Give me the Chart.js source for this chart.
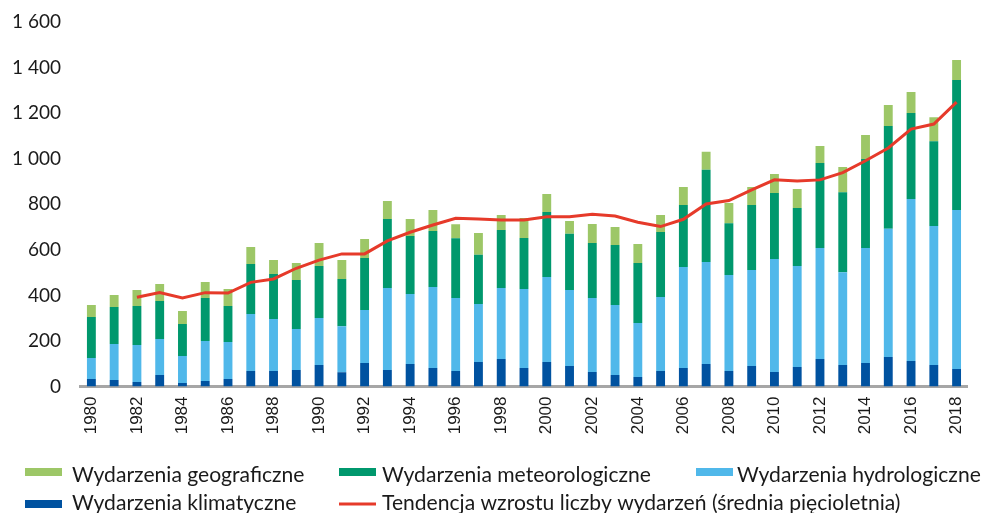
<!DOCTYPE html>
<html>
<head>
<meta charset="utf-8">
<script src="https://cdn.jsdelivr.net/npm/chart.js@4.4.1/dist/chart.umd.min.js"></script>
<style>
  html, body { margin: 0; padding: 0; background: #ffffff; overflow: hidden; }
  #wrap { width: 987px; height: 513px; }
</style>
</head>
<body>
<div id="wrap"><canvas id="c" width="987" height="513"></canvas></div>
<script>
const years = ['1980','1981','1982','1983','1984','1985','1986','1987','1988','1989',
  '1990','1991','1992','1993','1994','1995','1996','1997','1998','1999',
  '2000','2001','2002','2003','2004','2005','2006','2007','2008','2009',
  '2010','2011','2012','2013','2014','2015','2016','2017','2018'];

const klimatyczne = [33,29,20,50,15,24,33,68,68,72,94,63,103,72,99,81,68,107,121,81,
  107,90,64,50,42,68,81,99,68,90,64,86,121,94,103,130,112,94,77];
const hydrologiczne = [92,158,162,158,119,176,162,250,228,180,207,202,233,360,307,356,320,255,311,347,
  374,334,325,308,237,325,444,448,421,421,496,443,487,408,505,562,711,610,698];
const meteorologiczne = [180,162,171,167,140,188,158,220,198,215,228,207,228,303,255,246,263,216,255,224,
  285,246,241,263,263,285,272,404,228,286,289,255,373,351,391,452,378,373,570];
const geograficzne = [53,53,71,75,57,71,75,74,61,75,101,83,84,79,74,92,61,96,66,88,
  79,57,83,79,83,75,79,79,88,79,84,83,75,110,105,92,92,105,88];
const tendencja = [null,null,392,412,389,412,410,457,472,519,555,582,582,639,677,709,738,735,731,731,
  745,745,756,748,721,702,734,801,816,863,907,902,907,939,991,1047,1130,1152,1248];

const yTicks = [0,200,400,600,800,1000,1200,1400,1600];

const labels = {
  geo: 'Wydarzenia geograficzne',
  meteo: 'Wydarzenia meteorologiczne',
  hydro: 'Wydarzenia hydrologiczne',
  klim: 'Wydarzenia klimatyczne',
  trend: 'Tendencja wzrostu liczby wydarzeń (średnia pięcioletnia)'
};

const C_GEO = '#9dc767', C_METEO = '#00986d', C_HYDRO = '#50b8ea', C_KLIM = '#0052a0', C_RED = '#e63a2a';

function fmt(v) { return String(v).replace(/\B(?=(\d{3})+(?!\d))/g, ' '); }

const legendPlugin = {
  id: 'customLegend',
  afterDraw(chart) {
    const ctx = chart.ctx;
    const byKey = {};
    chart.data.datasets.forEach(d => byKey[d.key] = d);
    const items = [
      { k: 'geo',   sx: 25,  tx: 72,  base: 482, sy: 472 },
      { k: 'meteo', sx: 339, tx: 382, base: 482, sy: 472 },
      { k: 'hydro', sx: 696, tx: 737, base: 482, sy: 472 },
      { k: 'klim',  sx: 25,  tx: 72,  base: 510, sy: 504 },
      { k: 'trend', sx: 339, tx: 382, base: 510, sy: 504 }
    ];
    ctx.save();
    ctx.font = '21px Lato';
    const m = ctx.measureText(labels.geo).width;
    const size = Math.round(21 * 233 / m * 10) / 10;
    ctx.font = size + 'px Lato';
    items.forEach(it => {
      const d = byKey[it.k];
      if (it.k === 'trend') {
        ctx.strokeStyle = d.borderColor;
        ctx.lineWidth = 3;
        ctx.beginPath();
        ctx.moveTo(it.sx, it.sy);
        ctx.lineTo(it.sx + 37, it.sy);
        ctx.stroke();
      } else {
        ctx.fillStyle = d.backgroundColor;
        ctx.fillRect(it.sx, it.sy - 4, 37, 8);
      }
      ctx.fillStyle = '#1a1a1a';
      ctx.textBaseline = 'alphabetic';
      ctx.textAlign = 'left';
      ctx.fillText(d.label, it.tx, it.base);
    });
    ctx.restore();
  }
};

new Chart(document.getElementById('c'), {
  type: 'bar',
  data: {
    labels: years,
    datasets: [
      { key: 'trend', type: 'line', label: labels.trend, data: tendencja, borderColor: C_RED, backgroundColor: C_RED,
        borderWidth: 3, pointRadius: 0, tension: 0, fill: false, stack: 'trend', order: 0, spanGaps: false },
      { key: 'klim', label: labels.klim, data: klimatyczne, backgroundColor: C_KLIM, stack: 'a', order: 1 },
      { key: 'hydro', label: labels.hydro, data: hydrologiczne, backgroundColor: C_HYDRO, stack: 'a', order: 1 },
      { key: 'meteo', label: labels.meteo, data: meteorologiczne, backgroundColor: C_METEO, stack: 'a', order: 1 },
      { key: 'geo', label: labels.geo, data: geograficzne, backgroundColor: C_GEO, stack: 'a', order: 1 }
    ]
  },
  options: {
    responsive: false,
    animation: false,
    devicePixelRatio: 1,
    datasets: { bar: { barPercentage: 0.39, categoryPercentage: 1.0, borderWidth: 0 } },
    layout: { padding: { left: 0, right: 1, top: 22, bottom: 66.5 } },
    plugins: { legend: { display: false }, tooltip: { enabled: false } },
    scales: {
      x: {
        stacked: true,
        offset: true,
        grid: { display: false, drawTicks: false },
        border: { display: true, color: '#a6a6a6', width: 3 },
        ticks: {
          autoSkip: false,
          maxRotation: 90,
          minRotation: 90,
          padding: 10,
          color: '#1a1a1a',
          font: { family: 'Liberation Sans, Arial, sans-serif', size: 17 },
          callback: function(v, i) { return i % 2 === 0 ? years[i] : ''; }
        },
        afterFit: function(s) { s.height = 60; }
      },
      y: {
        stacked: true,
        min: 0,
        max: 1600,
        grid: { display: false, drawTicks: true, tickLength: 15 },
        border: { display: false },
        afterBuildTicks: function(s) { s.ticks = yTicks.map(v => ({ value: v })); },
        ticks: {
          padding: 4,
          color: '#1a1a1a',
          font: { family: 'Lato', size: 19 },
          callback: function(v) { return fmt(v); }
        },
        afterFit: function(s) { s.width = 80; }
      }
    }
  },
  plugins: [legendPlugin]
});
</script>
</body>
</html>
